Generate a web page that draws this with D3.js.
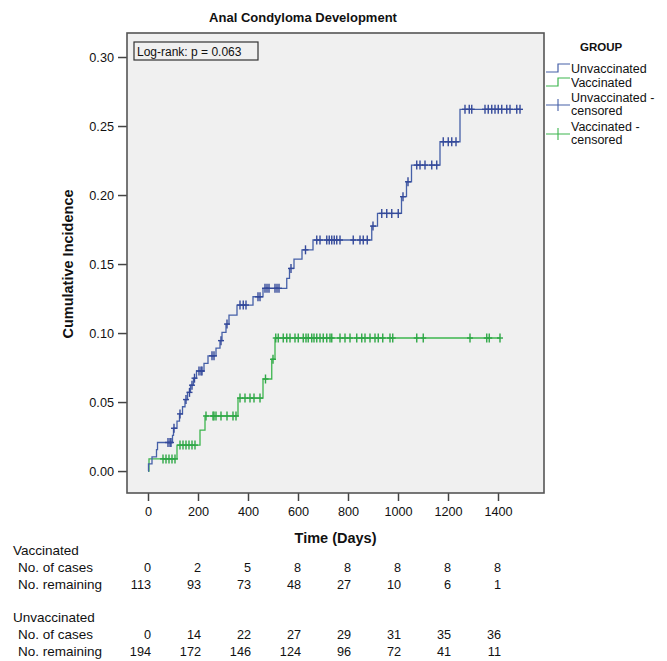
<!DOCTYPE html>
<html>
<head>
<meta charset="utf-8">
<script src="https://cdn.jsdelivr.net/npm/d3@7"></script>
<style>
  body { margin: 0; background: #fff; }
  text { font-family: "Liberation Sans", Arial, sans-serif; fill: #111; }
</style>
</head>
<body>
<div id="chart"></div>
<script>
// Kaplan-Meier style cumulative incidence
// steps: [day, cumulative incidence after the event]
const unvaccSteps = [
  [0, 0], [2, 0.0052], [16, 0.0103], [34, 0.0155], [38, 0.0207], [98, 0.0259],
  [102, 0.031], [116, 0.0362], [126, 0.0414], [138, 0.0466], [148, 0.0518],
  [158, 0.057], [170, 0.0622], [182, 0.0673], [194, 0.0725], [224, 0.078],
  [240, 0.0835], [272, 0.089], [288, 0.0945], [296, 0.1005], [312, 0.1065],
  [324, 0.113], [356, 0.1203], [420, 0.1263], [460, 0.1324], [555, 0.1396],
  [566, 0.1468], [584, 0.1535], [616, 0.1603], [660, 0.1674], [895, 0.1775],
  [918, 0.1867], [1014, 0.1988], [1034, 0.2096], [1054, 0.2217],
  [1168, 0.2386], [1248, 0.2621]
];
const unvaccEnd = 1488;
const unvaccCensored = [
  80, 88, 92, 104, 128, 152, 166, 176, 186, 204, 212, 216, 256, 264, 292, 316,
  368, 381, 392, 440, 448, 468, 476, 484, 508, 516, 524, 572, 630,
  675, 688, 715, 725, 735, 745, 755, 768, 821, 848, 861, 877, 900,
  935, 955, 975, 1001, 1020, 1040, 1075, 1088, 1108, 1135, 1155,
  1181, 1201, 1215, 1232, 1268, 1285, 1295, 1348, 1361, 1375, 1388,
  1401, 1415, 1435, 1448, 1475, 1488
];

const vaccSteps = [
  [0, 0], [4, 0.0088], [116, 0.0188], [208, 0.0297], [228, 0.0399],
  [360, 0.0529], [460, 0.0667], [495, 0.081], [508, 0.0964]
];
const vaccEnd = 1408;
const vaccCensored = [
  60, 72, 84, 96, 108, 128, 140, 152, 164, 176, 188, 232, 260, 264, 272, 292,
  316, 340, 352, 368, 388, 408, 424, 448, 470, 500,
  511, 521, 541, 555, 568, 588, 601, 621, 632, 641, 655, 664, 675, 688, 701,
  715, 728, 735, 768, 788, 808, 835, 855, 868, 888, 908, 921, 939, 968, 979,
  1075, 1101, 1288, 1355, 1365, 1408
];

// numbers at risk table
const tableDays = [0, 200, 400, 600, 800, 1000, 1200, 1400];
const vaccCases = [0, 2, 5, 8, 8, 8, 8, 8];
const vaccRemaining = [113, 93, 73, 48, 27, 10, 6, 1];
const unvaccCases = [0, 14, 22, 27, 29, 31, 35, 36];
const unvaccRemaining = [194, 172, 146, 124, 96, 72, 41, 11];

const yTicks = [0, 0.05, 0.10, 0.15, 0.20, 0.25, 0.30];
const xTicks = [0, 200, 400, 600, 800, 1000, 1200, 1400];

const width = 667, height = 661;
const plot = {left: 127, right: 544, top: 33, bottom: 493};

const blue = "#4660a8", blueMark = "#34499a";
const green = "#3db54e", greenMark = "#2ea746";

const svg = d3.select("#chart").append("svg")
  .attr("width", width).attr("height", height);

const x = d3.scaleLinear().domain([-84, 1584]).range([plot.left, plot.right]);
const y = d3.scaleLinear().domain([-0.0159, 0.3174]).range([plot.bottom, plot.top]);

// plot background
svg.append("rect")
  .attr("x", plot.left).attr("y", plot.top)
  .attr("width", plot.right - plot.left).attr("height", plot.bottom - plot.top)
  .attr("fill", "#f0f0f0");

// axes
const yAxis = svg.append("g")
  .attr("transform", `translate(${plot.left},0)`)
  .call(d3.axisLeft(y).tickValues(yTicks).tickFormat(d3.format(".2f")).tickSize(9).tickSizeOuter(0));
const xAxis = svg.append("g")
  .attr("transform", `translate(0,${plot.bottom})`)
  .call(d3.axisBottom(x).tickValues(xTicks).tickFormat(d3.format("d")).tickSize(8).tickSizeOuter(0));
[yAxis, xAxis].forEach(g => {
  g.select(".domain").remove();
  g.selectAll(".tick line").attr("stroke", "#444").attr("stroke-width", 1.5);
  g.selectAll(".tick text").attr("font-size", 12.7).attr("fill", "#111")
    .style("font-family", '"Liberation Sans", Arial, sans-serif');
});
yAxis.selectAll(".tick text").attr("x", -13);
xAxis.selectAll(".tick text").attr("y", 14);

// step curves
const line = d3.line()
  .x(d => x(d[0]))
  .y(d => y(d[1]))
  .curve(d3.curveStepAfter);

function valueAt(steps, day) {
  const i = d3.bisector(d => d[0]).right(steps, day) - 1;
  return steps[Math.max(0, i)][1];
}

function drawGroup(steps, end, censored, col, markCol) {
  const pts = steps.concat([[end, steps[steps.length - 1][1]]]);
  svg.append("path")
    .attr("d", line(pts))
    .attr("fill", "none")
    .attr("stroke", col)
    .attr("stroke-width", 1.3);
  const g = svg.append("g").attr("stroke", markCol).attr("stroke-width", 1.4);
  censored.forEach(day => {
    const cx = x(day), cy = y(valueAt(steps, day));
    g.append("line").attr("x1", cx).attr("x2", cx).attr("y1", cy - 4.5).attr("y2", cy + 4.5);
    g.append("line").attr("x1", cx - 3).attr("x2", cx + 3).attr("y1", cy).attr("y2", cy);
  });
}

drawGroup(vaccSteps, vaccEnd, vaccCensored, green, greenMark);
drawGroup(unvaccSteps, unvaccEnd, unvaccCensored, blue, blueMark);

// frame
svg.append("rect")
  .attr("x", plot.left).attr("y", plot.top)
  .attr("width", plot.right - plot.left).attr("height", plot.bottom - plot.top)
  .attr("fill", "none").attr("stroke", "#555").attr("stroke-width", 1.6);

// log-rank box
svg.append("rect")
  .attr("x", 134).attr("y", 42).attr("width", 124).attr("height", 18)
  .attr("fill", "none").attr("stroke", "#333").attr("stroke-width", 1.2);
svg.append("text")
  .attr("x", 137).attr("y", 55.5)
  .attr("font-size", 12)
  .text("Log-rank: p = 0.063");

// title and axis titles
svg.append("text")
  .attr("x", 303).attr("y", 22)
  .attr("text-anchor", "middle")
  .attr("font-size", 13).attr("font-weight", "bold")
  .text("Anal Condyloma Development");
svg.append("text")
  .attr("x", (plot.left + plot.right) / 2).attr("y", 543)
  .attr("text-anchor", "middle")
  .attr("font-size", 14.5).attr("font-weight", "bold")
  .text("Time (Days)");
svg.append("text")
  .attr("transform", `translate(73,${(y(0) + y(0.3)) / 2}) rotate(-90)`)
  .attr("text-anchor", "middle")
  .attr("font-size", 14.5).attr("font-weight", "bold")
  .text("Cumulative Incidence");

// legend
const lg = svg.append("g");
lg.append("text").attr("x", 580).attr("y", 51)
  .attr("font-size", 11.5).attr("font-weight", "bold").text("GROUP");
const legendLines = [
  {label: ["Unvaccinated"], col: blue, y: 69, type: "step"},
  {label: ["Vaccinated"], col: green, y: 83, type: "step"},
  {label: ["Unvaccinated -", "censored"], col: blue, y: 98, type: "cens"},
  {label: ["Vaccinated -", "censored"], col: green, y: 127, type: "cens"}
];
legendLines.forEach(d => {
  if (d.type === "step") {
    lg.append("path")
      .attr("d", `M546,${d.y + 3}H558V${d.y - 5}H570`)
      .attr("fill", "none").attr("stroke", d.col).attr("stroke-width", 1.2);
  } else {
    const cy = d.y + 7;
    lg.append("path")
      .attr("d", `M546,${cy}H570M558,${cy - 6}V${cy + 6}`)
      .attr("fill", "none").attr("stroke", d.col).attr("stroke-width", 1.1);
  }
  d.label.forEach((t, i) => {
    lg.append("text").attr("x", 571).attr("y", d.y + 4 + i * 13)
      .attr("font-size", 12.5).text(t);
  });
});

// numbers-at-risk table
const rows = [
  {label: "Vaccinated", y: 555, values: null, indent: 13},
  {label: "No. of cases", y: 572, values: vaccCases, indent: 18},
  {label: "No. remaining", y: 589, values: vaccRemaining, indent: 18},
  {label: "Unvaccinated", y: 622, values: null, indent: 13},
  {label: "No. of cases", y: 639, values: unvaccCases, indent: 18},
  {label: "No. remaining", y: 656, values: unvaccRemaining, indent: 18}
];
const tbl = svg.append("g");
rows.forEach(r => {
  tbl.append("text").attr("x", r.indent).attr("y", r.y)
    .attr("font-size", 13.5).text(r.label);
  if (r.values) {
    tbl.selectAll(null)
      .data(r.values)
      .join("text")
      .attr("x", (d, i) => x(tableDays[i]) + 3)
      .attr("y", r.y)
      .attr("text-anchor", "end")
      .attr("font-size", 12.7)
      .text(d => d);
  }
});
</script>
</body>
</html>
